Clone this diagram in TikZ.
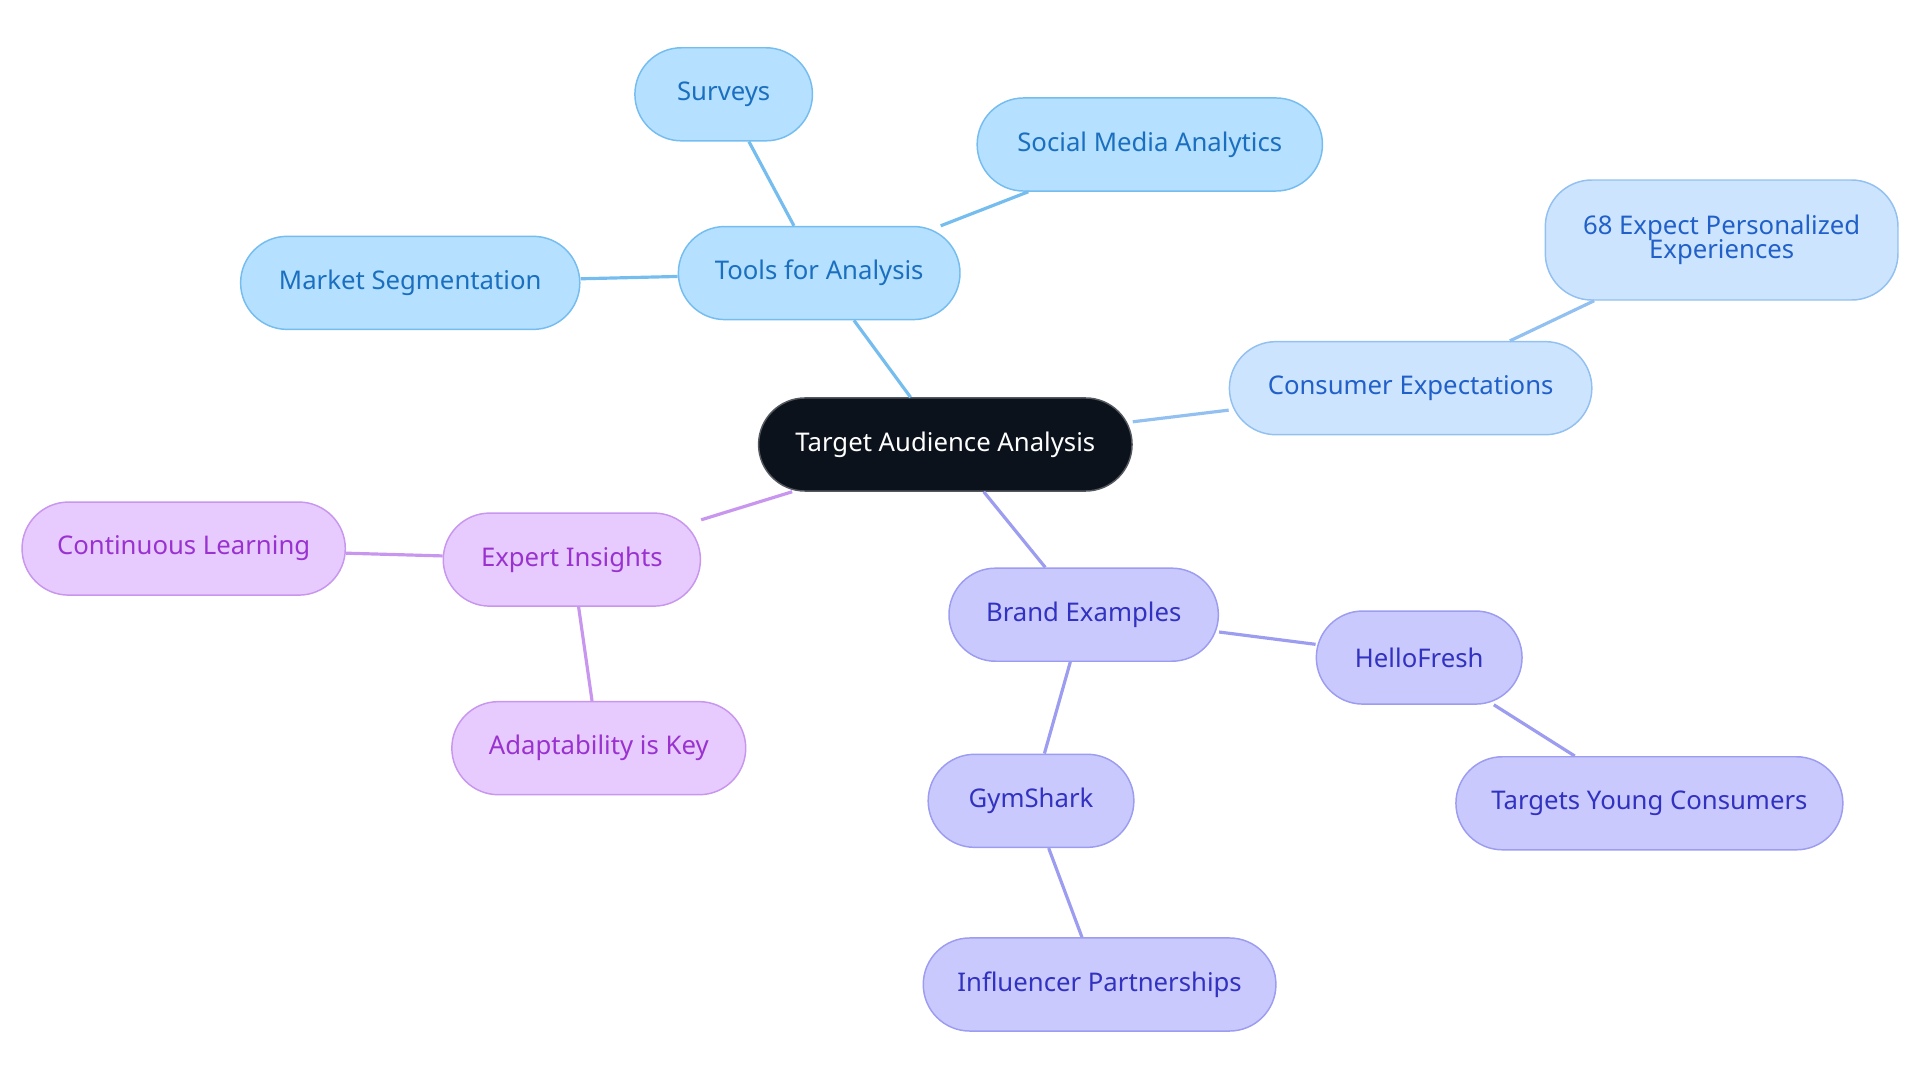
\documentclass[tikz,border=0pt]{standalone}
\usepackage{fontspec}
\setmainfont{Noto Sans}
\definecolor{bF}{HTML}{B5E0FF}\definecolor{bD}{HTML}{76BDEF}\definecolor{bT}{HTML}{1B6FBF}
\definecolor{cF}{HTML}{CDE4FE}\definecolor{cD}{HTML}{92C0F0}\definecolor{cT}{HTML}{2060C8}
\definecolor{pF}{HTML}{E8CBFE}\definecolor{pD}{HTML}{C896EE}\definecolor{pT}{HTML}{9A32D0}
\definecolor{iF}{HTML}{C9C9FE}\definecolor{iD}{HTML}{9C9CF0}\definecolor{iT}{HTML}{3232C0}
\definecolor{dk}{HTML}{0B121B}
\begin{document}
\begin{tikzpicture}[x=0.5pt,y=-0.5pt,
 nd/.style={rounded corners=19pt,minimum height=38pt,inner sep=0pt,font=\fontsize{10.5}{12}\selectfont,line width=0.6pt},
 b/.style={nd,fill=bF,draw=bD,text=bT},
 c/.style={nd,fill=cF,draw=cD,text=cT},
 p/.style={nd,fill=pF,draw=pD,text=pT},
 i/.style={nd,fill=iF,draw=iD,text=iT},
 e/.style={line width=1.3pt}]
\useasboundingbox (0,0) rectangle (1568,884);
\node[nd,fill=dk,draw=dk!70,text=white,minimum width=152.5pt] (t) at (772,363) {Target Audience Analysis};
\node[b,minimum width=115pt] (tools) at (669,223) {Tools for Analysis};
\node[b,minimum width=72.5pt] (sur) at (591,77) {Surveys};
\node[b,minimum width=141pt] (soc) at (939,118) {Social Media Analytics};
\node[b,minimum width=138.5pt] (mkt) at (335,231) {Market Segmentation};
\node[c,minimum width=148pt] (con) at (1152,317) {Consumer Expectations};
\node[c,minimum width=144pt,minimum height=49pt,align=center] (s68) at (1406,196) {68 Expect Personalized\\[-2pt]Experiences};
\node[p,minimum width=105pt] (exp) at (467,457) {Expert Insights};
\node[p,minimum width=132pt] (cl) at (150,448) {Continuous Learning};
\node[p,minimum width=120pt] (ad) at (489,611) {Adaptability is Key};
\node[i,minimum width=110pt] (br) at (885,502) {Brand Examples};
\node[i,minimum width=84pt] (hf) at (1159,537) {HelloFresh};
\node[i,minimum width=158pt] (ty) at (1347,656) {Targets Young Consumers};
\node[i,minimum width=84pt] (gs) at (842,654) {GymShark};
\node[i,minimum width=144pt] (inf) at (898,804) {Influencer Partnerships};
\draw[e,bD] (t) -- (tools); \draw[e,bD] (tools) -- (sur); \draw[e,bD] (tools) -- (soc); \draw[e,bD] (tools) -- (mkt);
\draw[e,cD] (t) -- (con); \draw[e,cD] (con) -- (s68);
\draw[e,pD] (t) -- (exp); \draw[e,pD] (exp) -- (cl); \draw[e,pD] (exp) -- (ad);
\draw[e,iD] (t) -- (br); \draw[e,iD] (br) -- (hf); \draw[e,iD] (hf) -- (ty); \draw[e,iD] (br) -- (gs); \draw[e,iD] (gs) -- (inf);
\end{tikzpicture}
\end{document}
